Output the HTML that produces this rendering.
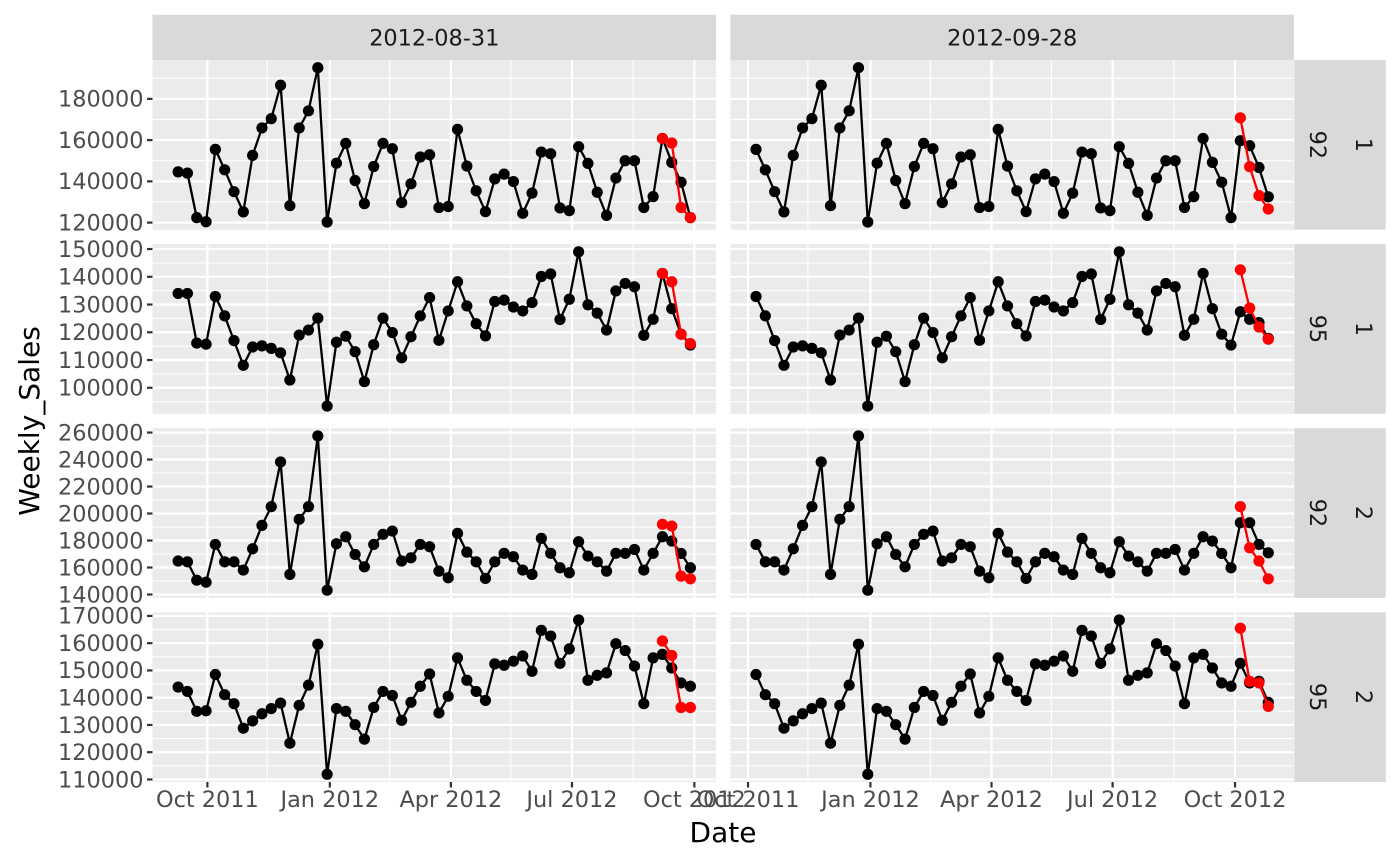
<!DOCTYPE html>
<html><head><meta charset="utf-8"><style>
html,body{margin:0;padding:0;background:#fff;}
svg{display:block;font-family:"DejaVu Sans","Liberation Sans",sans-serif;}
</style></head><body>
<svg id="chart" width="1400" height="865" viewBox="0 0 1400 865" xmlns="http://www.w3.org/2000/svg"></svg>
<script>
const colLabels = ["2012-08-31", "2012-09-28"];
const rowStoreLabels = ["92", "95", "92", "95"];
const rowDeptLabels = ["1", "1", "2", "2"];
const tickLabelsX = ["Oct 2011", "Jan 2012", "Apr 2012", "Jul 2012", "Oct 2012"];
const row1Sales = [144.6,144.0,122.4,120.4,155.5,145.6,135.0,125.2,152.6,165.9,170.4,186.6,128.2,165.9,174.2,195.1,120.3,148.8,158.4,140.4,129.2,147.2,158.4,155.8,129.7,138.8,151.8,152.9,127.3,127.8,165.2,147.4,135.4,125.3,141.2,143.5,139.9,124.5,134.3,154.2,153.4,127.1,125.8,156.8,148.7,134.7,123.5,141.6,150.0,150.0,127.3,132.6,160.8,149.2,139.6,122.4,159.7,157.3,146.7,132.5];
const row2Sales = [134.0,134.0,116.1,115.7,132.9,125.9,117.0,108.1,114.7,115.1,114.2,112.6,102.8,119.0,120.8,125.1,93.4,116.4,118.6,113.0,102.2,115.5,125.1,119.9,110.8,118.4,125.9,132.5,117.1,127.7,138.2,129.5,123.1,118.7,131.1,131.6,129.1,127.7,130.7,140.1,141.0,124.6,131.9,149.0,129.9,126.9,120.8,134.9,137.6,136.4,118.9,124.7,141.2,128.5,119.3,115.4,127.4,124.7,123.5,117.8];
const row3Sales = [164.8,164.2,150.6,149.1,177.1,164.2,164.2,158.1,173.9,191.2,205.1,238.2,154.9,195.7,205.1,257.5,143.2,177.6,182.8,169.7,160.5,177.1,184.6,187.0,164.8,167.2,177.1,175.4,157.3,152.4,185.3,171.4,164.2,151.9,164.2,170.5,168.0,158.1,154.9,181.6,170.5,159.8,156.1,179.1,168.5,164.2,157.3,170.5,170.5,173.4,158.1,170.5,182.8,179.6,170.4,159.8,193.2,193.2,177.1,170.9];
const row4Sales = [143.9,142.3,135.0,135.2,148.5,141.1,137.8,128.8,131.5,134.1,136.0,138.0,123.3,137.2,144.6,159.6,111.9,136.0,135.0,130.1,124.8,136.4,142.3,140.8,131.7,138.3,144.2,148.7,134.4,140.5,154.6,146.4,142.3,139.0,152.4,151.9,153.4,155.3,149.7,164.7,162.6,152.6,157.9,168.5,146.4,148.2,149.1,159.8,157.3,151.6,137.8,154.6,155.9,150.9,145.4,144.2,152.6,145.4,146.0,138.3];
const row1ForecastLeft = [160.8,158.6,127.3,122.4];
const row1ForecastRight = [170.8,147.1,133.1,126.6];
const row2ForecastLeft = [141.2,138.2,119.3,115.9];
const row2ForecastRight = [142.5,128.7,121.9,117.5];
const row3ForecastLeft = [192.0,190.7,153.6,151.6];
const row3ForecastRight = [205.1,174.6,164.8,151.6];
const row4ForecastLeft = [160.8,155.5,136.4,136.4];
const row4ForecastRight = [165.5,146.0,145.4,136.8];
const row1Ticks = [120,140,160,180];
const row2Ticks = [100,110,120,130,140,150];
const row3Ticks = [140,160,180,200,220,240,260];
const row4Ticks = [110,120,130,140,150,160,170];

const rowsSales=[row1Sales,row2Sales,row3Sales,row4Sales];
const rowsFL=[row1ForecastLeft,row2ForecastLeft,row3ForecastLeft,row4ForecastLeft];
const rowsFR=[row1ForecastRight,row2ForecastRight,row3ForecastRight,row4ForecastRight];
const rowsTicks=[row1Ticks,row2Ticks,row3Ticks,row4Ticks];

const NS="http://www.w3.org/2000/svg";
const svg=document.getElementById('chart');
function mk(tag,attrs,parent){const e=document.createElementNS(NS,tag);for(const k in attrs)e.setAttribute(k,attrs[k]);(parent||svg).appendChild(e);return e;}

const DAY=86400000;
const start=Date.UTC(2011,8,9);
function dateOf(i){return start+i*7*DAY;}
const panelX=[152.5,730.4], panelW=563.5;
const panelY=[60,244.1,428.2,612.3], panelH=169.7;
// column data index ranges
const colStart=[0,4];
function xScale(col,t){
  const d0=dateOf(colStart[col]), d1=dateOf(colStart[col]+55);
  const span=d1-d0, lo=d0-span*0.05, hi=d1+span*0.05;
  return panelX[col]+(t-lo)/(hi-lo)*panelW;
}
const majorDates=[Date.UTC(2011,9,1),Date.UTC(2012,0,1),Date.UTC(2012,3,1),Date.UTC(2012,6,1),Date.UTC(2012,9,1)];
const minorDates=[Date.UTC(2011,7,16),Date.UTC(2011,10,15),Date.UTC(2012,1,15),Date.UTC(2012,4,16),Date.UTC(2012,7,16),Date.UTC(2012,10,15)];

for(let r=0;r<4;r++){
  const all=rowsSales[r].concat(rowsFL[r],rowsFR[r]);
  const mn=Math.min(...all), mx=Math.max(...all), rg=mx-mn;
  const lo=mn-rg*0.05, hi=mx+rg*0.05;
  const yS=v=>panelY[r]+panelH-(v-lo)/(hi-lo)*panelH;
  const ticks=rowsTicks[r];
  const step=ticks[1]-ticks[0];
  for(let c=0;c<2;c++){
    const g=mk('g',{});
    
    
    const x0=panelX[c], y0=panelY[r];
    const bg=mk('rect',{x:x0,y:y0,width:panelW,height:panelH,fill:'#EBEBEB'},g);
    
    
    const inY=y=>y>=y0&&y<=y0+panelH;
    const inX=x=>x>=x0&&x<=x0+panelW;
    // minor y
    for(let k=-1;k<ticks.length;k++){const v=ticks[0]+step*(k+0.5);const y=yS(v);if(inY(y))mk('line',{x1:x0,x2:x0+panelW,y1:y,y2:y,stroke:'#fff','stroke-width':1.1},g);}
    minorDates.forEach(d=>{const x=xScale(c,d);if(inX(x))mk('line',{x1:x,x2:x,y1:y0,y2:y0+panelH,stroke:'#fff','stroke-width':1.1},g);});
    ticks.forEach(v=>{const y=yS(v);if(inY(y))mk('line',{x1:x0,x2:x0+panelW,y1:y,y2:y,stroke:'#fff','stroke-width':2.2},g);});
    majorDates.forEach(d=>{const x=xScale(c,d);if(inX(x))mk('line',{x1:x,x2:x,y1:y0,y2:y0+panelH,stroke:'#fff','stroke-width':2.2},g);});
    // actual series
    const idx=[];for(let i=colStart[c];i<colStart[c]+56;i++)idx.push(i);
    const pts=idx.map(i=>[xScale(c,dateOf(i)),yS(rowsSales[r][i])]);
    const line=mk('polyline',{points:pts.map(p=>p.join(',')).join(' '),fill:'none',stroke:'#000','stroke-width':2.3,'stroke-linejoin':'round'},g);
    
    
    pts.forEach(p=>{const ci=mk('circle',{cx:p[0],cy:p[1],r:5.6,fill:'#000'},g);
      
      });
    // forecast
    const fc=c===0?rowsFL[r]:rowsFR[r];
    const fStart=colStart[c]+52;
    const fp=fc.map((v,k)=>[xScale(c,dateOf(fStart+k)),yS(v)]);
    const fl=mk('polyline',{points:fp.map(p=>p.join(',')).join(' '),fill:'none',stroke:'#FF0000','stroke-width':2.3,'stroke-linejoin':'round'},g);
    
    
    fp.forEach(p=>{const ci=mk('circle',{cx:p[0],cy:p[1],r:5.6,fill:'#FF0000'},g);
      
      });
    // y axis
    if(c===0){
      ticks.forEach(v=>{const y=yS(v);if(!inY(y))return;
        mk('line',{x1:x0-5.5,x2:x0,y1:y,y2:y,stroke:'#333','stroke-width':2.2});
        const t=mk('text',{x:x0-9,y:y+7.8,'text-anchor':'end','font-size':22.4,fill:'#4D4D4D'});
        t.textContent=String(v*1000);
        
        });
    }
    if(r===3){
      majorDates.forEach((d,k)=>{const x=xScale(c,d);if(!inX(x))return;
        mk('line',{x1:x,x2:x,y1:y0+panelH,y2:y0+panelH+5.5,stroke:'#333','stroke-width':2.2});
        const t=mk('text',{x:x,y:y0+panelH+25,'text-anchor':'middle','font-size':22.4,fill:'#4D4D4D'});
        t.textContent=tickLabelsX[k];
        
        });
    }
  }
  // right strips
  const sw=45.7;
  [rowStoreLabels[r],rowDeptLabels[r]].forEach((lab,k)=>{
    const sx=1294.3+k*sw;
    const s=mk('rect',{x:sx,y:panelY[r],width:sw,height:panelH,fill:'#D9D9D9'});
    
    
    const cx=sx+sw/2, cy=panelY[r]+panelH/2;
    const t=mk('text',{x:cx,y:cy,'text-anchor':'middle','dominant-baseline':'central','font-size':22.4,fill:'#1A1A1A',transform:`rotate(90 ${cx} ${cy})`});
    t.textContent=lab;
    
    
  });
}
// column strips
colLabels.forEach((lab,c)=>{
  const s=mk('rect',{x:panelX[c],y:14.7,width:panelW,height:45.3,fill:'#D9D9D9'});
  
  
  const t=mk('text',{x:panelX[c]+panelW/2,y:45.5,'text-anchor':'middle','font-size':22.4,fill:'#1A1A1A'});
  t.textContent=lab;
  
  
});
const xt=mk('text',{x:723,y:842,'text-anchor':'middle','font-size':28,fill:'#000'});
xt.textContent='Date';


const yt=mk('text',{x:39,y:421,'text-anchor':'middle','font-size':28,fill:'#000',transform:'rotate(-90 39 421)'});
yt.textContent='Weekly_Sales';


</script>
</body></html>
